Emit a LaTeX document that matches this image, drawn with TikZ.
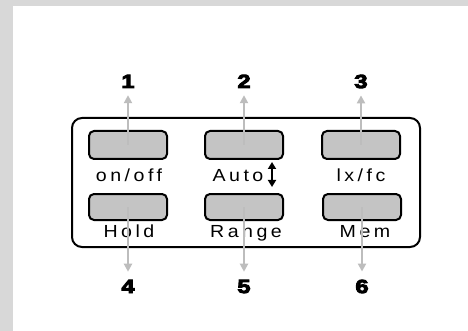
\documentclass[tikz,border=0pt]{standalone}
\usepackage{fontspec}
\setmainfont{Liberation Sans}
\newfontfamily\keyfont[LetterSpace=20,FakeStretch=1.12]{Liberation Sans}
\newfontfamily\numfont[FakeBold=5,FakeStretch=1.25]{Liberation Sans Bold}
\usepackage{xcolor}
\usepackage{tikz}
\usetikzlibrary{arrows.meta}
\definecolor{framegray}{HTML}{D8D8D8}
\definecolor{keygray}{HTML}{C4C4C4}
\definecolor{arrowgray}{HTML}{BDBDBD}
\tikzset{
	keybox/.style={draw=black,line width=2pt,fill=keygray,rounded corners=5pt,minimum width=78pt,inner sep=0pt},
	keylabel/.style={anchor=base,inner sep=0pt,font=\keyfont\fontsize{17.5}{20}\selectfont},
	keynum/.style={anchor=base,inner sep=2pt,font=\numfont\fontsize{19}{21}\selectfont},
	keyarrow/.style={arrowgray,line width=2pt,-{Triangle[width=8pt,length=8pt]}}
}

\begin{document}
\begin{tikzpicture}[x=1pt,y=-1pt]
		\useasboundingbox (0,0) rectangle (468,331);
		\fill[framegray] (0,0) rectangle (468,331);
		\fill[white] (13,6) rectangle (468,331);
		% meter panel
		\draw[line width=2pt,rounded corners=10pt] (72,118) rectangle (420,247);
		% keys, upper row
		\node[keybox,minimum height=28pt] (b1) at (128,145) {};
		\node[keybox,minimum height=28pt] (b2) at (244,145) {};
		\node[keybox,minimum height=28pt] (b3) at (361,145) {};
		% keys, lower row
		\node[keybox,minimum height=26pt] (b4) at (128,207) {};
		\node[keybox,minimum height=26pt] (b5) at (244,207) {};
		\node[keybox,minimum height=26pt] (b6) at (362,207) {};
		% key names
		\node[keylabel] (l1) at (129,182) {on/off};
		\node[keylabel] (l2) at (238,182) {Auto};
		\node[keylabel] (l3) at (361,182) {lx/fc};
		\node[keylabel] (l4) at (129,237) {Hold};
		\node[keylabel] (l5) at (246,237) {Range};
		\node[keylabel] (l6) at (365,237) {Mem};
		\coordinate (up) at (272,162);
		\coordinate (down) at (272,187);
		\draw[line width=2pt,{Triangle[width=8pt,length=7pt]}-{Triangle[width=8pt,length=7pt]}] (up) -- (down);
		% numbers
		\node[keynum] (n1) at (128,88) {1};
		\node[keynum] (n2) at (244,88) {2};
		\node[keynum] (n3) at (361,88) {3};
		\node[keynum] (n4) at (128,293) {4};
		\node[keynum] (n5) at (244,293) {5};
		\node[keynum] (n6) at (362,293) {6};
		\draw[keyarrow,shorten >=5pt] (b1.center) -- (n1.south);
		\draw[keyarrow,shorten >=5pt] (b2.center) -- (n2.south);
		\draw[keyarrow,shorten >=5pt] (b3.center) -- (n3.south);
		\draw[keyarrow,shorten >=6pt] (b4.center) -- (n4.north);
		\draw[keyarrow,shorten >=6pt] (b5.center) -- (n5.north);
		\draw[keyarrow,shorten >=6pt] (b6.center) -- (n6.north);
	\end{tikzpicture}
\end{document}
